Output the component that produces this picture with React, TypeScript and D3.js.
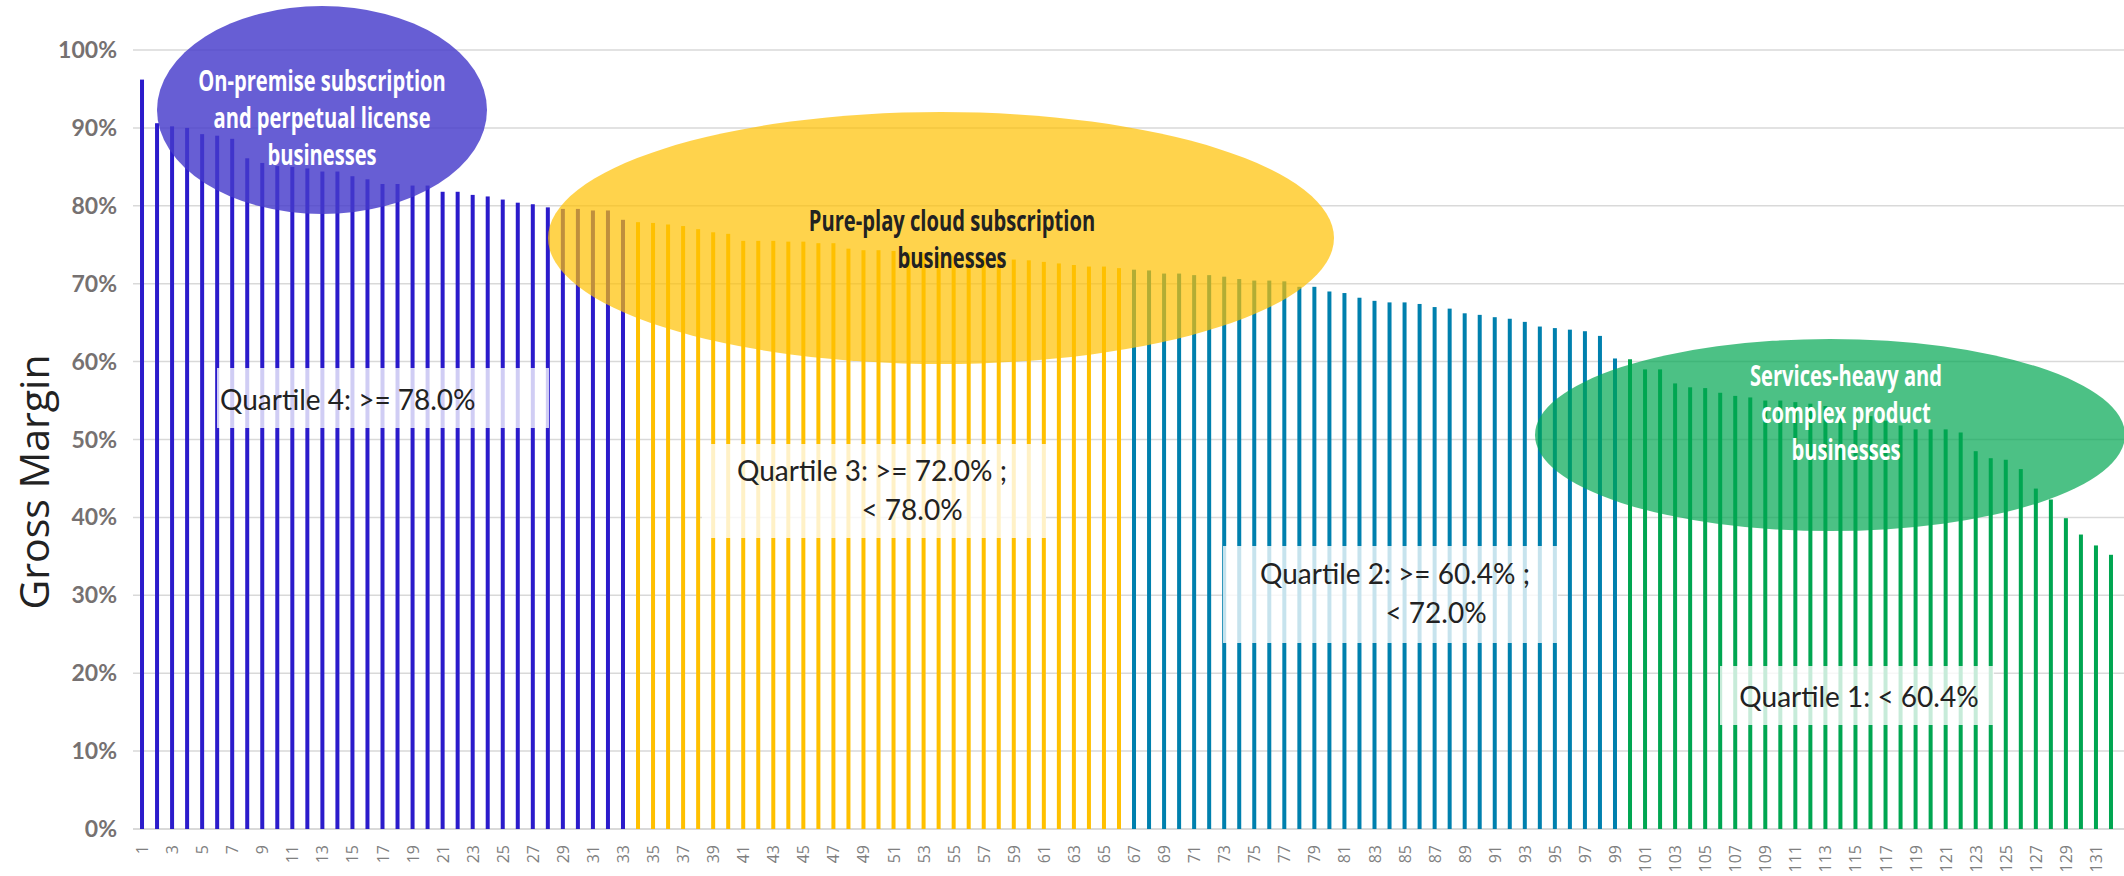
import React from 'react';
import * as d3 from 'd3';

// gross margin per company, sorted, one array per quartile (percent)
const quartile4 = [96.2, 90.6, 90.2, 90.0, 89.2, 89.0, 88.6, 86.1, 85.5, 85.1, 85.0, 84.8, 84.4, 84.4, 83.8, 83.4, 82.8, 82.8, 82.6, 82.6, 81.8, 81.8, 81.4, 81.2, 80.8, 80.4, 80.2, 79.8, 79.6, 79.6, 79.4, 79.4, 78.2];
const quartile3 = [77.9, 77.8, 77.6, 77.4, 77.0, 76.6, 76.4, 75.5, 75.5, 75.5, 75.4, 75.4, 75.2, 75.2, 74.5, 74.3, 74.3, 74.2, 74.0, 73.9, 73.7, 73.6, 73.5, 73.3, 73.2, 73.1, 73.0, 72.8, 72.6, 72.4, 72.2, 72.2, 72.0];
const quartile2 = [71.8, 71.7, 71.3, 71.3, 71.1, 71.1, 70.9, 70.6, 70.4, 70.4, 70.3, 69.6, 69.6, 69.0, 68.8, 68.2, 67.8, 67.6, 67.6, 67.4, 67.0, 66.8, 66.2, 66.0, 65.7, 65.5, 65.1, 64.5, 64.3, 64.1, 63.9, 63.3, 60.4];
const quartile1 = [60.3, 59.0, 59.0, 57.2, 56.7, 56.6, 56.0, 55.6, 55.4, 55.0, 55.0, 54.8, 54.6, 54.3, 53.9, 53.5, 53.0, 52.4, 51.8, 51.3, 51.3, 51.3, 50.9, 48.5, 47.6, 47.4, 46.2, 43.7, 42.3, 39.9, 37.8, 36.4, 35.2];

const quartileColors = ['#2B1BCB', '#FFC000', '#0080AE', '#00A651'];
const yTicks = [0, 10, 20, 30, 40, 50, 60, 70, 80, 90, 100];

const onPremText = ['On-premise subscription', 'and perpetual license', 'businesses'];
const cloudText = ['Pure-play cloud subscription', 'businesses'];
const servicesText = ['Services-heavy and', 'complex product', 'businesses'];

const q4Label = ['Quartile 4: >= 78.0%'];
const q3Label = ['Quartile 3: >= 72.0% ;', '< 78.0%'];
const q2Label = ['Quartile 2: >= 60.4% ;', '< 72.0%'];
const q1Label = ['Quartile 1: < 60.4%'];

const W = 2124;
const H = 876;

export default function App() {
  const groups = [quartile4, quartile3, quartile2, quartile1];
  const data = groups.flatMap((vals, g) => vals.map(v => ({ v, g })));
  const ids = data.map((_, i) => i + 1);

  const x = d3.scaleBand<number>().domain(ids).range([134.5, 2118.5]).padding(0);
  const y = d3.scaleLinear().domain([0, 100]).range([829, 50]);
  const barW = 4;
  const cx = (i: number) => (x(i) as number) + x.bandwidth() / 2;

  const font = 'Lato, "Open Sans", sans-serif';
  const bold = '"Open Sans", sans-serif';

  const bubbleText = (lines: string[], x0: number, y0: number, color: string) => (
    <g transform={`translate(${x0},0) scale(0.72,1)`}>
      {lines.map((t, k) => (
        <text key={k} x={0} y={y0 + k * 37} textAnchor="middle" fontFamily={bold}
          fontWeight={700} fontSize={28} fill={color}>{t}</text>
      ))}
    </g>
  );

  return (
    <svg width={W} height={H} style={{ position: 'absolute', left: 0, top: 0, background: '#fff' }}>
      {/* grid */}
      {yTicks.map(t => (
        <g key={t}>
          <line x1={133} x2={W} y1={y(t)} y2={y(t)} stroke="#D9D9D9" strokeWidth={t === 0 ? 2 : 1.5} />
          <text x={117} y={y(t) + 8} textAnchor="end" fontFamily={font} fontWeight={700}
            fontSize={23} fill="#767171">{t}%</text>
        </g>
      ))}

      {/* bars */}
      {data.map((d, i) => (
        <rect key={i} x={cx(i + 1) - barW / 2} y={y(d.v)} width={barW} height={y(0) - y(d.v)}
          fill={quartileColors[d.g]} />
      ))}

      {/* x labels, every other one */}
      {ids.filter(i => i % 2 === 1).map(i => (
        <text key={i} transform={`translate(${cx(i) + 6},845) rotate(-90)`} textAnchor="end"
          fontFamily={bold} fontSize={16} fill="#808080">{i}</text>
      ))}

      <text transform="translate(49,482) rotate(-90)" textAnchor="middle" fontFamily={bold}
        fontSize={41} fill="#222">Gross Margin</text>

      {/* quartile labels */}
      <g fontFamily={font} fontSize={28} fill="#222">
        <rect x={217} y={368} width={332} height={60} fill="#fff" opacity={0.78} />
        <text x={220} y={410}>{q4Label[0]}</text>

        <rect x={702} y={444} width={344} height={94} fill="#fff" opacity={0.78} />
        <text x={872} y={481} textAnchor="middle">{q3Label[0]}</text>
        <text x={912} y={520} textAnchor="middle">{q3Label[1]}</text>

        <rect x={1223} y={546} width={335} height={97} fill="#fff" opacity={0.78} />
        <text x={1395} y={584} textAnchor="middle">{q2Label[0]}</text>
        <text x={1436} y={623} textAnchor="middle">{q2Label[1]}</text>

        <rect x={1720} y={666} width={274} height={59} fill="#fff" opacity={0.78} />
        <text x={1859} y={707} textAnchor="middle">{q1Label[0]}</text>
      </g>

      {/* segment bubbles */}
      <ellipse cx={322} cy={110} rx={165} ry={104} fill="#453ACA" opacity={0.82} />
      <ellipse cx={941} cy={238} rx={393} ry={126} fill="#FFC000" opacity={0.7} />
      <ellipse cx={1830} cy={435} rx={295} ry={96} fill="#00A651" opacity={0.7} />

      {bubbleText(onPremText, 322, 91, '#fff')}
      {bubbleText(cloudText, 952, 231, '#222')}
      {bubbleText(servicesText, 1846, 386, '#fff')}
    </svg>
  );
}
